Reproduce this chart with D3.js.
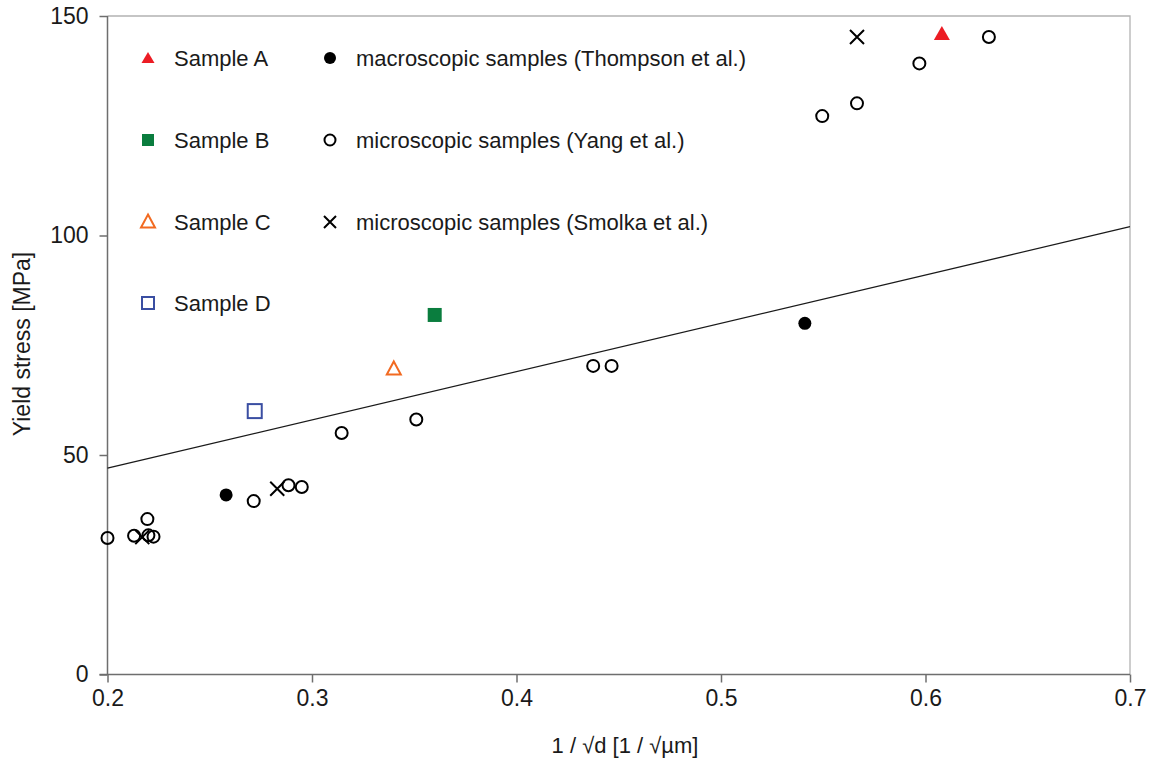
<!DOCTYPE html>
<html>
<head>
<meta charset="utf-8">
<script src="https://cdn.jsdelivr.net/npm/d3@7"></script>
<style>
  body { margin: 0; background: #fff; }
  text { font-family: "Liberation Sans", Arial, sans-serif; fill: #1a1a1a; }
</style>
</head>
<body>
<div id="chart"></div>
<script>
// Data (x = 1/sqrt(d), y = yield stress)
var sampleA = [[0.608, 145.9]];
var sampleB = [[0.360, 81.9]];
var sampleC = [[0.340, 69.6]];
var sampleD = [[0.272, 60.0]];
var thompson = [[0.258, 40.9], [0.541, 80.0]];
var yang = [
  [0.200, 31.1], [0.213, 31.6], [0.2195, 35.4], [0.220, 31.7], [0.2225, 31.4],
  [0.2715, 39.5], [0.2885, 43.1], [0.295, 42.7], [0.3145, 55.0], [0.351, 58.1],
  [0.4375, 70.3], [0.4465, 70.3], [0.5495, 127.2], [0.5665, 130.1],
  [0.597, 139.2], [0.631, 145.2]
];
var smolka = [[0.217, 31.3], [0.283, 42.3], [0.5665, 145.2]];
// linear fit: y = 25 + 110 x
var fitX = [0.2, 0.7];
var fitIntercept = 25;
var fitSlope = 110;
var xTicks = [0.2, 0.3, 0.4, 0.5, 0.6, 0.7];
var yTicks = [0, 50, 100, 150];

var width = 1149;
var height = 766;

var svg = d3.select("#chart")
  .append("svg")
  .attr("width", width)
  .attr("height", height);

// Plot area edges
var pLeft = 107.5;
var pRight = 1130;
var pTop = 16;
var pBottom = 674.5;

var xScale = d3.scaleLinear().domain([0.2, 0.7]).range([pLeft, pRight]);
var yScale = d3.scaleLinear().domain([0, 150]).range([pBottom, pTop]);

// Light frame on top and right
svg.append("path")
  .attr("d", "M" + pLeft + "," + pTop + "H" + pRight + "V" + pBottom)
  .attr("fill", "none")
  .attr("stroke", "#b3b3b3")
  .attr("stroke-width", 1.3);

// Axes
var xAxis = d3.axisBottom(xScale)
  .tickValues(xTicks)
  .tickSize(8)
  .tickPadding(7)
  .tickFormat(d3.format(".1f"));
var yAxis = d3.axisLeft(yScale)
  .tickValues(yTicks)
  .tickSize(8)
  .tickPadding(11)
  .tickFormat(d3.format("d"));

var gx = svg.append("g")
  .attr("transform", "translate(0," + pBottom + ")")
  .call(xAxis);
var gy = svg.append("g")
  .attr("transform", "translate(" + pLeft + ",0)")
  .call(yAxis);

[gx, gy].forEach(function(g) {
  g.select(".domain").attr("stroke", "#6e6e6e").attr("stroke-width", 1.5);
  g.selectAll(".tick line").attr("stroke", "#6e6e6e").attr("stroke-width", 1.5);
  g.selectAll(".tick text")
    .attr("font-size", 23)
    .attr("font-family", "Liberation Sans, Arial, sans-serif")
    .attr("fill", "#1a1a1a");
});
gy.select(".domain").attr("d", "M0," + pBottom + "V" + pTop);
gx.select(".domain").attr("d", "M" + (pLeft - 8) + ",0H" + pRight);

// Axis titles
svg.append("text")
  .attr("x", 625)
  .attr("y", 753)
  .attr("text-anchor", "middle")
  .attr("font-size", 22)
  .text("1 / \u221Ad [1 / \u221A\u00B5m]");

svg.append("text")
  .attr("transform", "translate(30,344)rotate(-90)")
  .attr("text-anchor", "middle")
  .attr("font-size", 23)
  .text("Yield stress [MPa]");

// Fit line
svg.append("line")
  .attr("x1", xScale(fitX[0]))
  .attr("y1", yScale(fitIntercept + fitSlope * fitX[0]))
  .attr("x2", xScale(fitX[1]))
  .attr("y2", yScale(fitIntercept + fitSlope * fitX[1]))
  .attr("stroke", "#1a1a1a")
  .attr("stroke-width", 1.3);

// Marker drawing helpers
var triPath = "M0,-8L8,6L-8,6Z";
var openTriPath = "M0,-7.5L7,5.5L-7,5.5Z";

function drawMarker(g, type) {
  if (type === "triFill") {
    g.append("path").attr("d", triPath).attr("fill", "#ec1c24");
  }
  else if (type === "sqFill") {
    g.append("rect").attr("x", -7).attr("y", -7).attr("width", 14).attr("height", 14)
      .attr("fill", "#0a7d3e");
  }
  else if (type === "triOpen") {
    g.append("path").attr("d", openTriPath).attr("fill", "none")
      .attr("stroke", "#f26a21").attr("stroke-width", 2);
  }
  else if (type === "sqOpen") {
    g.append("rect").attr("x", -7).attr("y", -7).attr("width", 14).attr("height", 14)
      .attr("fill", "none").attr("stroke", "#3a4ea2").attr("stroke-width", 2);
  }
  else if (type === "dot") {
    g.append("circle").attr("r", 6.5).attr("fill", "#000");
  }
  else if (type === "ring") {
    g.append("circle").attr("r", 6).attr("fill", "none")
      .attr("stroke", "#000").attr("stroke-width", 2);
  }
  else if (type === "cross") {
    g.append("path").attr("d", "M-7,-7L7,7M-7,7L7,-7")
      .attr("stroke", "#000").attr("stroke-width", 2).attr("fill", "none");
  }
}

function plotSeries(data, type) {
  svg.append("g")
    .selectAll("g")
    .data(data)
    .enter()
    .append("g")
    .attr("transform", function(d) {
      return "translate(" + xScale(d[0]) + "," + yScale(d[1]) + ")";
    })
    .each(function() { drawMarker(d3.select(this), type); });
}

plotSeries(yang, "ring");
plotSeries(thompson, "dot");
plotSeries(smolka, "cross");
plotSeries(sampleD, "sqOpen");
plotSeries(sampleC, "triOpen");
plotSeries(sampleB, "sqFill");
plotSeries(sampleA, "triFill");

// Legend
var legendItems = [
  { type: "triFill", label: "Sample A", x: 148, y: 58 },
  { type: "sqFill", label: "Sample B", x: 148, y: 140 },
  { type: "triOpen", label: "Sample C", x: 148, y: 222 },
  { type: "sqOpen", label: "Sample D", x: 148, y: 303 },
  { type: "dot", label: "macroscopic samples (Thompson et al.)", x: 330, y: 58 },
  { type: "ring", label: "microscopic samples (Yang et al.)", x: 330, y: 140 },
  { type: "cross", label: "microscopic samples (Smolka et al.)", x: 330, y: 222 }
];

legendItems.forEach(function(item) {
  var g = svg.append("g").attr("transform", "translate(" + item.x + "," + item.y + ")");
  var m = g.append("g");
  drawMarker(m, item.type);
  if (item.type === "dot") { m.select("circle").attr("r", 6); }
  if (item.type === "ring") { m.select("circle").attr("r", 5.5); }
  if (item.type === "cross") { m.select("path").attr("d", "M-6,-6L6,6M-6,6L6,-6"); }
  if (item.type === "triFill") { m.select("path").attr("d", "M0,-6L6.5,5L-6.5,5Z"); }
  if (item.type === "sqFill" || item.type === "sqOpen") {
    m.select("rect").attr("x", -6).attr("y", -6).attr("width", 12).attr("height", 12);
  }
  g.append("text")
    .attr("x", 26)
    .attr("y", 8)
    .attr("font-size", 22)
    .text(item.label);
});
</script>
</body>
</html>
